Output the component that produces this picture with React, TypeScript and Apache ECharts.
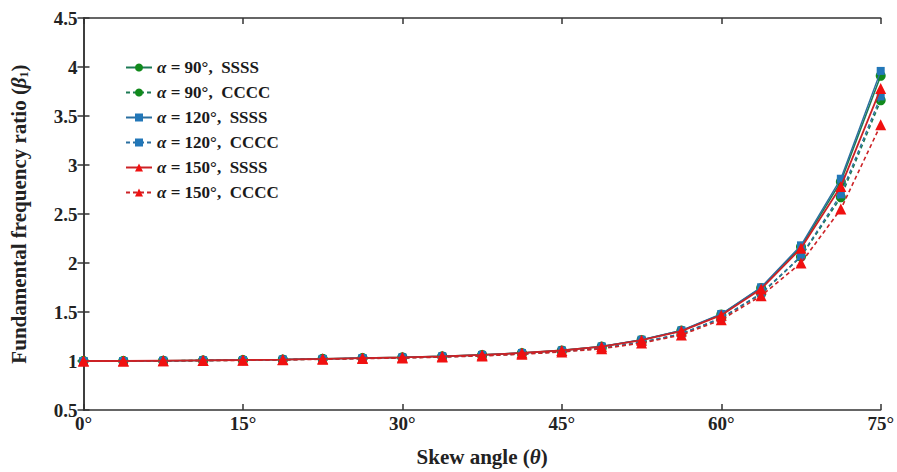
import React, { useEffect, useRef } from "react";
import * as echarts from "echarts";

const angles = [0, 3.75, 7.5, 11.25, 15, 18.75, 22.5, 26.25, 30, 33.75, 37.5, 41.25, 45, 48.75, 52.5, 56.25, 60, 63.75, 67.5, 71.25, 75];

const ssss90 = [1.0, 1.0, 1.003, 1.006, 1.01, 1.015, 1.022, 1.03, 1.037, 1.048, 1.062, 1.082, 1.108, 1.148, 1.215, 1.31, 1.475, 1.745, 2.165, 2.83, 3.91];
const cccc90 = [1.0, 1.0, 1.002, 1.005, 1.008, 1.013, 1.02, 1.027, 1.033, 1.043, 1.055, 1.073, 1.097, 1.13, 1.19, 1.275, 1.435, 1.685, 2.065, 2.67, 3.66];
const ssss120 = [1.0, 1.0, 1.003, 1.006, 1.01, 1.015, 1.022, 1.03, 1.037, 1.048, 1.062, 1.082, 1.108, 1.149, 1.217, 1.313, 1.48, 1.752, 2.18, 2.86, 3.96];
const cccc120 = [1.0, 1.0, 1.002, 1.005, 1.008, 1.013, 1.02, 1.027, 1.033, 1.043, 1.055, 1.073, 1.097, 1.131, 1.192, 1.278, 1.44, 1.69, 2.07, 2.7, 3.7];
const ssss150 = [1.0, 1.0, 1.003, 1.006, 1.01, 1.015, 1.022, 1.03, 1.037, 1.048, 1.062, 1.082, 1.107, 1.146, 1.212, 1.305, 1.468, 1.735, 2.15, 2.78, 3.78];
const cccc150 = [1.0, 1.0, 1.002, 1.004, 1.007, 1.012, 1.018, 1.025, 1.03, 1.04, 1.052, 1.069, 1.092, 1.125, 1.183, 1.265, 1.42, 1.665, 2.0, 2.55, 3.41];

const legendNames = [
  "α = 90°,  SSSS",
  "α = 90°,  CCCC",
  "α = 120°,  SSSS",
  "α = 120°,  CCCC",
  "α = 150°,  SSSS",
  "α = 150°,  CCCC",
];

const xTicks = [0, 15, 30, 45, 60, 75];

const FONT = "'Liberation Serif', 'Times New Roman', serif";

export default function App() {
  const ref = useRef<HTMLDivElement>(null);
  useEffect(() => {
    if (!ref.current) return;
    const chart = echarts.init(ref.current, null, { renderer: "svg" });
    const mk = (name: string, data: number[], symbol: string, size: number, markerColor: string, lineColor: string, dashed: boolean, z: number, lw: number) => ({
      name,
      type: "line",
      data: angles.map((a, i) => [a, data[i]]),
      symbol,
      symbolSize: size,
      itemStyle: { color: markerColor },
      lineStyle: { color: lineColor, width: lw, type: dashed ? [4, 3] : "solid" },
      z,
    });
    const green = "#118a1c";
    const greenLine = "#1d7a55";
    const blue = "#2277b8";
    const blueLine = "#2a6fa0";
    const red = "#f01010";
    const redLine = "#cc2226";
    chart.setOption({
      animation: false,
      backgroundColor: "#ffffff",
      grid: { left: 82, right: 14, top: 18, bottom: 46 },
      legend: {
        orient: "vertical",
        left: 120,
        top: 54,
        itemWidth: 26,
        itemHeight: 10,
        itemGap: 8,
        data: legendNames,
        formatter: (n: string) => "{i|α}" + n.slice(1),
        textStyle: {
          fontFamily: FONT,
          fontWeight: "bold",
          fontSize: 17,
          color: "#1a1a1a",
          rich: {
            i: { fontFamily: FONT, fontStyle: "italic", fontWeight: "bold", fontSize: 17, color: "#1a1a1a" },
          },
        },
      },
      xAxis: [
        {
          type: "value",
          min: 0,
          max: 75,
          interval: 15,
          name: "Skew angle ({i|θ})",
          nameLocation: "middle",
          nameGap: 36,
          nameTextStyle: {
            fontFamily: FONT,
            fontWeight: "bold",
            fontSize: 21,
            color: "#222",
            rich: { i: { fontFamily: FONT, fontStyle: "italic", fontWeight: "bold", fontSize: 21, color: "#222" } },
          },
          axisLine: { lineStyle: { color: "#333", width: 1.5 } },
          axisTick: { inside: true, length: 6, lineStyle: { color: "#333", width: 1.5 } },
          axisLabel: {
            fontFamily: FONT,
            fontWeight: "bold",
            fontSize: 19,
            color: "#222",
            margin: 4,
            formatter: (v: number) => (xTicks.includes(v) ? v + "°" : ""),
          },
          splitLine: { show: false },
        },
        {
          type: "value",
          position: "top",
          min: 0,
          max: 75,
          interval: 15,
          axisLine: { show: true, lineStyle: { color: "#333", width: 1.5 } },
          axisTick: { inside: true, length: 6, lineStyle: { color: "#333", width: 1.5 } },
          axisLabel: { show: false },
          splitLine: { show: false },
        },
      ],
      yAxis: [
        {
          type: "value",
          min: 0.5,
          max: 4.5,
          interval: 0.5,
          name: "{b|Fundamental frequency ratio (}{i|β}{s|1}{b|)}",
          nameLocation: "middle",
          nameGap: 54,
          nameTextStyle: {
            fontFamily: FONT,
            fontWeight: "bold",
            fontSize: 21,
            color: "#222",
            rich: {
              b: { fontFamily: FONT, fontWeight: "bold", fontSize: 21, color: "#222" },
              i: { fontFamily: FONT, fontStyle: "italic", fontWeight: "bold", fontSize: 21, color: "#222" },
              s: { fontFamily: FONT, fontWeight: "bold", fontSize: 12, color: "#222", padding: [10, 0, 0, 0] },
            },
          },
          axisLine: { lineStyle: { color: "#333", width: 1.5 } },
          axisTick: { inside: true, length: 6, lineStyle: { color: "#333", width: 1.5 } },
          axisLabel: { fontFamily: FONT, fontWeight: "bold", fontSize: 19, color: "#222", margin: 6 },
          splitLine: { show: false },
        },
        {
          type: "value",
          position: "right",
          min: 0.5,
          max: 4.5,
          interval: 0.5,
          axisLine: { show: true, lineStyle: { color: "#333", width: 1.5 } },
          axisTick: { inside: true, length: 6, lineStyle: { color: "#333", width: 1.5 } },
          axisLabel: { show: false },
          splitLine: { show: false },
        },
      ],
      series: [
        mk(legendNames[0], ssss90, "circle", 10, green, greenLine, false, 2, 1.6),
        mk(legendNames[1], cccc90, "circle", 10, green, greenLine, true, 2, 1.6),
        mk(legendNames[2], ssss120, "rect", 8, blue, blueLine, false, 3, 1.4),
        mk(legendNames[3], cccc120, "rect", 8, blue, blueLine, true, 3, 1.4),
        mk(legendNames[4], ssss150, "triangle", 11, red, redLine, false, 4, 1.8),
        mk(legendNames[5], cccc150, "triangle", 11, red, redLine, true, 4, 1.6),
      ],
    });
    return () => chart.dispose();
  }, []);
  return <div ref={ref} style={{ position: "absolute", left: 0, top: 0, width: 897, height: 472 }} />;
}
